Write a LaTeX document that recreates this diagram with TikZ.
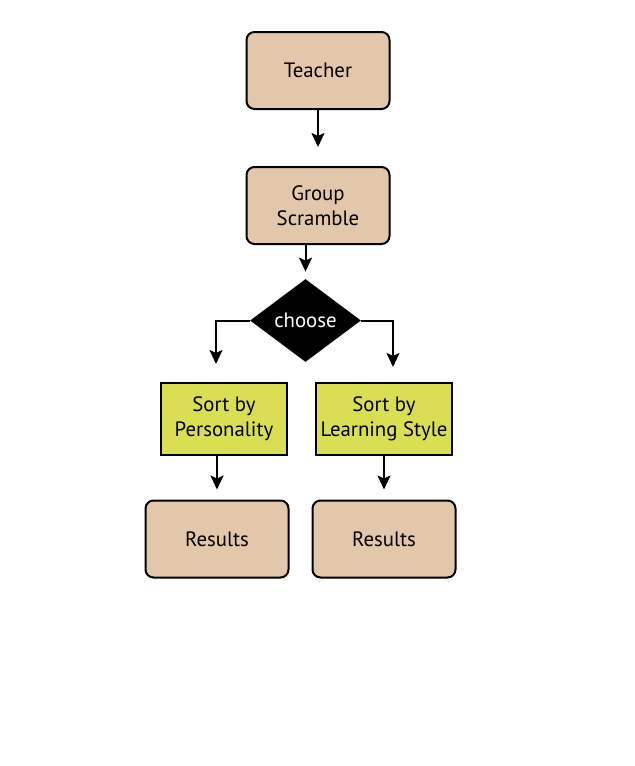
\documentclass[tikz,border=0pt]{standalone}
\usepackage{fontspec}
\setmainfont{PT Sans}
\usepackage{xcolor}
\usetikzlibrary{arrows.meta,shapes.geometric}

\definecolor{tanbox}{RGB}{226,199,171}
\definecolor{limebox}{RGB}{217,222,82}

\begin{document}
\begin{tikzpicture}[
    x=0.5pt, y=-0.5pt,
    every node/.style={font=\fontsize{10.4}{12.5}\selectfont},
    block/.style={draw, rectangle, rounded corners=4pt, fill=tanbox, align=center, line width=1pt, inner sep=0pt, minimum width=71.5pt, minimum height=38.5pt},
    sortbox/.style={draw, rectangle, fill=limebox, align=center, line width=1pt, inner sep=0pt, minimum height=36pt},
    decision/.style={diamond, fill=black, text=white, inner sep=0pt, minimum width=55.5pt, minimum height=41.5pt},
    arrow/.style={-{Stealth[length=7pt, width=6.5pt, inset=1.5pt]}, line width=1pt}
]
    \useasboundingbox (0,0) rectangle (634,766);

    % Nodes
    \node (teacher) [block] at (318,70.5) {Teacher};
    \node (group) [block] at (318,205.5) {Group\\Scramble};
    \node (choose) [decision] at (305.5,320.5) {choose};
    \node (sortp) [sortbox, minimum width=63pt] at (224,419) {Sort by\\Personality};
    \node (sortl) [sortbox, minimum width=68pt] at (384,419) {Sort by\\Learning Style};
    \node (resp) [block] at (217,539) {Results};
    \node (resl) [block] at (384,539) {Results};

    % Arrows
    \draw [arrow, shorten >=9.5pt] (teacher) -- (group);
    \draw [arrow, shorten >=3.5pt] (group.south -| choose.north) -- (choose.north);
    \draw [arrow, shorten >=9pt] (choose.west) -| ([xshift=-4pt]sortp.north);
    \draw [arrow, shorten >=7.5pt] (choose.east) -| ([xshift=4.5pt]sortl.north);
    \draw [arrow, shorten >=5pt] (sortp.south -| resp.north) -- (resp.north);
    \draw [arrow, shorten >=5pt] (sortl.south -| resl.north) -- (resl.north);

\end{tikzpicture}
\end{document}
